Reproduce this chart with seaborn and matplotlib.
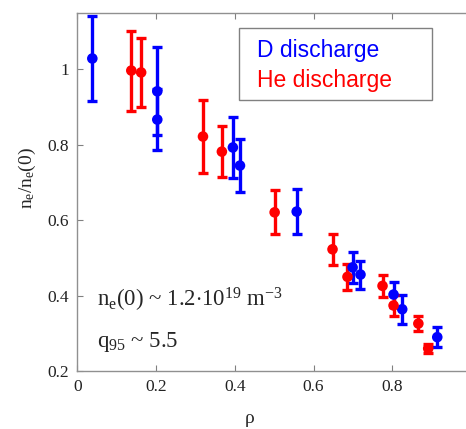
import numpy as np
import pandas as pd
import matplotlib
matplotlib.use("Agg")
import matplotlib.pyplot as plt
import seaborn as sns
from matplotlib.patches import Rectangle

# D discharge data
rho_d = [0.038, 0.203, 0.203, 0.395, 0.413, 0.557, 0.699, 0.719, 0.803, 0.825, 0.914]
ne_d = [1.029, 0.942, 0.867, 0.793, 0.745, 0.623, 0.475, 0.456, 0.403, 0.364, 0.290]
err_d = [0.113, 0.117, 0.082, 0.080, 0.070, 0.060, 0.041, 0.037, 0.033, 0.038, 0.026]

# He discharge data
rho_he = [0.137, 0.162, 0.319, 0.367, 0.501, 0.648, 0.686, 0.775, 0.803, 0.866, 0.891]
ne_he = [0.997, 0.992, 0.822, 0.782, 0.621, 0.523, 0.450, 0.426, 0.374, 0.326, 0.260]
err_he = [0.106, 0.092, 0.097, 0.067, 0.058, 0.041, 0.035, 0.030, 0.028, 0.020, 0.013]

df = pd.concat([
    pd.DataFrame({"rho": rho_d, "ne": ne_d, "err": err_d, "shot": "D discharge"}),
    pd.DataFrame({"rho": rho_he, "ne": ne_he, "err": err_he, "shot": "He discharge"}),
])
colors = {"D discharge": "#0000ff", "He discharge": "#ff0000"}

sns.set_style("ticks")
plt.rcParams["font.family"] = ["Liberation Serif", "DejaVu Serif"]
plt.rcParams["mathtext.fontset"] = "custom"
plt.rcParams["mathtext.rm"] = "Liberation Serif"
plt.rcParams["mathtext.it"] = "Liberation Serif"

fig = plt.figure(figsize=(4.66, 4.29), dpi=100)
# axes runs past the right edge of the figure, as in the original
ax = fig.add_axes([0.166, 0.135, 0.845, 0.835])

for name, g in df.groupby("shot"):
    ax.errorbar(g["rho"], g["ne"], yerr=g["err"], fmt="none", ecolor=colors[name],
                elinewidth=2.4, capsize=3.6, capthick=2.4, zorder=2)
sns.scatterplot(data=df, x="rho", y="ne", hue="shot", palette=colors, s=58,
                edgecolor="none", legend=False, ax=ax, zorder=3)

ax.set_xlim(0, 1)
ax.set_ylim(0.2, 1.15)
ax.set_xticks([0, 0.2, 0.4, 0.6, 0.8, 1])
ax.set_xticklabels(["0", "0.2", "0.4", "0.6", "0.8", "1"])
ax.set_yticks([0.2, 0.4, 0.6, 0.8, 1])
ax.set_yticklabels(["0.2", "0.4", "0.6", "0.8", "1"])
ax.tick_params(direction="in", top=True, right=False, length=4, width=0.8,
               color="#808080", labelsize=12.5, labelcolor="#222222", pad=6)
for sp in ax.spines.values():
    sp.set_color("#909090")
    sp.set_linewidth(1.0)
ax.spines["right"].set_visible(False)

ax.set_xlabel(r"$\rho$", fontsize=14)
ax.xaxis.set_label_coords(0.438, -0.115)
ax.set_ylabel(r"$n_e/n_e(0)$", fontsize=14)
ax.yaxis.set_label_coords(-0.1, 0.54)

ax.text(0.05, 0.370, r"$n_e(0)$ ~ 1.2$\cdot$10$^{19}$ m$^{-3}$", fontsize=16.5, va="baseline")
ax.text(0.05, 0.264, r"$q_{95}$ ~ 5.5", fontsize=16.5, va="baseline")

# legend box drawn by hand (text left aligned, wide right margin)
ax.add_patch(Rectangle((0.410, 0.757), 0.491, 0.201, transform=ax.transAxes,
                       facecolor="white", edgecolor="#808080", linewidth=1.0, zorder=4))
for i, (name, c) in enumerate(colors.items()):
    ax.text(0.456, 0.877 - i * 0.084, name, color=c, transform=ax.transAxes,
            family="Liberation Sans", fontsize=16.5, va="baseline", zorder=5)

fig.savefig("out.png", dpi=100)
